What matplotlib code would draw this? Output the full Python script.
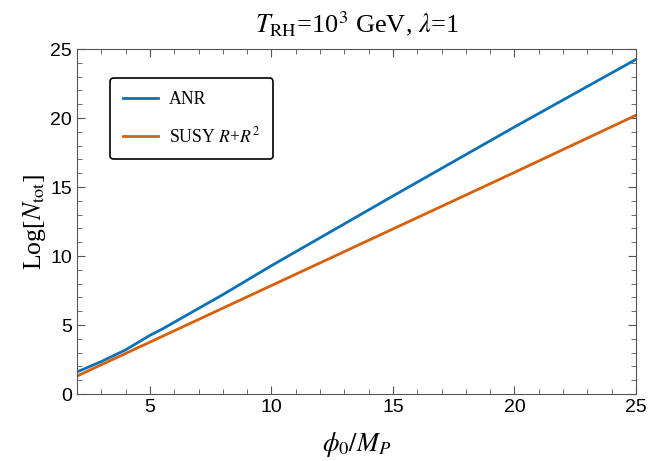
import matplotlib
matplotlib.use('Agg')
import matplotlib.pyplot as plt
from matplotlib.ticker import MultipleLocator

# data
phi_anr = [2, 3, 4, 5, 5.5, 6, 8, 10, 15, 20, 25]
logN_anr = [1.6, 2.35, 3.2, 4.25, 4.7, 5.2, 7.2, 9.3, 14.35, 19.35, 24.25]
phi_susy = [2, 5, 10, 15, 20, 25]
logN_susy = [1.3, 3.76, 7.86, 11.96, 16.06, 20.2]

plt.rcParams['mathtext.fontset'] = 'stix'
serif = ['Liberation Serif', 'DejaVu Serif']
sans = ['Liberation Sans', 'DejaVu Sans']

fig = plt.figure(figsize=(6.49, 4.61), dpi=100)
ax = fig.add_axes([0.1186, 0.1453, 0.8614, 0.7484])

ax.plot(phi_anr, logN_anr, color='#0c72b8', lw=2, label='ANR')
ax.plot(phi_susy, logN_susy, color='#d9600a', lw=2, label='SUSY $R$+$R^2$')

ax.set_xlim(2, 25)
ax.set_ylim(0, 25)
ax.xaxis.set_major_locator(MultipleLocator(5))
ax.xaxis.set_minor_locator(MultipleLocator(1))
ax.yaxis.set_major_locator(MultipleLocator(5))
ax.yaxis.set_minor_locator(MultipleLocator(1))
ax.tick_params(which='both', direction='in', top=True, right=True, color='#555555',
               labelsize=14)
ax.tick_params(which='major', length=6)
ax.tick_params(which='minor', length=3.5)
for lab in ax.get_xticklabels() + ax.get_yticklabels():
    lab.set_family(sans)
for sp in ax.spines.values():
    sp.set_color('#555555')

ax.set_xlabel(r'$\phi_0/M_P$', fontsize=19, family=serif, labelpad=10)
ax.set_ylabel(r'Log[$N_{\rm tot}$]', fontsize=18.5, family=serif, labelpad=2)
ax.set_title(r'$T_{\rm RH}$=10$^3$ GeV, $\lambda$=1', fontsize=19, family=serif, pad=12)

leg = ax.legend(loc='upper left', bbox_to_anchor=(0.059, 0.916), prop={'family': serif, 'size': 12.8},
                fancybox=True, framealpha=1, edgecolor='black', handlelength=1.95,
                borderpad=0.75, labelspacing=1.0, handletextpad=0.6, borderaxespad=0)
leg.get_frame().set_linewidth(1.2)

fig.savefig('out.png', dpi=100)
